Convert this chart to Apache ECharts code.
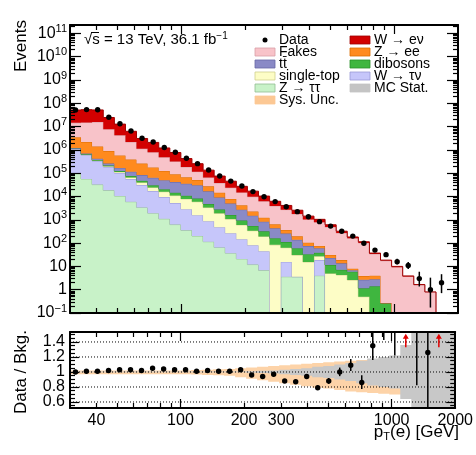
<!DOCTYPE html>
<html>
<head>
<meta charset="utf-8">
<script src="https://cdn.jsdelivr.net/npm/echarts@6.0.0/dist/echarts.min.js"></script>
<style>
html,body{margin:0;padding:0;background:#fff;}
#chart{width:476px;height:455px;}
</style>
</head>
<body>
<div id="chart"></div>
<script>
// ===================== DATA =====================
// bin edges of p_T(e) in GeV
const binEdges = [30,33.8,38.1,43,48.5,54.7,61.6,69.5,78.4,88.4,99.6,112.3,126.7,142.8,161,181.6,204.7,230.8,260.3,293.5,330.9,373.1,420.7,474.4,534.9,603.1,680,766.7,864.5,974.8,1099,1239,1397,1576,1777,2000];

const dataCounts = [5.13e7,5.37e7,5.25e7,2.51e7,1.32e7,6.46e6,3.16e6,2.19e6,1.26e6,7.94e5,4.37e5,2.57e5,1.38e5,7.59e4,4.57e4,2.82e4,1.62e4,9770,6030,3630,2240,1350,832,537,324,200,98,50,32,16,11,3,1,2,0];

// background components (events per bin), stacked bottom -> top
const zTauTau = [1.0e5,56900,32400,18400,10500,5960,3390,1930,1100,624,355,202,115,65,37,21,12,6.8,0,3.6,3.6,0,4,0,0,0,0,0,0,0,0,0,0,0,0];
const wTauNu = [1.0e6,5.5e5,3.02e5,1.66e5,91200,50100,27500,15100,8320,4570,2510,1380,759,417,229,126,69,38,0,12,0,0,14.6,0,0,0,0,0,0,0,0,0,0,0,0];
const singleTop = [20000,17400,15100,13200,11500,10000,8710,7590,6610,5750,5010,4370,2480,1410,804,457,260,148,84,48,27,15.5,8.8,5.0,4.3,2.6,0.5,0,0,0,0,0,0,0,0];
const dibosons = [31600,24900,19600,15400,12100,9550,7520,5920,4660,3660,2880,2290,1410,871,537,331,204,126,78,48,30,18,11,6.5,2.8,3.3,0.65,1.4,0.27,0,0,0,0,0,0];
const ttbar = [63100,57400,52200,47500,43300,39400,35800,32600,29600,27000,24500,22400,11900,6340,3370,1790,955,508,270,144,77,41,22,11.4,6.4,1.0,1.5,1.4,0,0,0,0,0,0,0];
const zee = [2.29e6,1.49e6,9.73e5,6.34e5,4.13e5,2.69e5,1.75e5,1.14e5,74500,48500,31600,20400,10600,5520,2870,1490,776,404,210,109,57,30,15.3,8,5.1,1.1,1.2,1.2,0,0,0,0,0,0,0];
const fakes = [1.094e7,1.276e7,1.428e7,6.87e6,3.66e6,1.79e6,8.62e5,6.17e5,3.57e5,2.31e5,1.18e5,6.54e4,3.74e4,2.31e4,1.595e4,10800,7450,5040,3280,2365,1583,935,718,454,250,152,97,30,17.1,9.3,3.7,1.58,0.8,0,0];
const wenu = [3.69e7,3.81e7,3.62e7,1.68e7,8.55e6,4.1e6,1.97e6,1.30e6,7.28e5,4.5e5,2.39e5,1.39e5,7.05e4,3.75e4,2.15e4,1.23e4,7170,4130,2290,1400,792,396,253,126,55,23,13,3.3,1.2,0.7,0.2,0.08,0,0,0];

// ratio panel
const ratioValues = [1.00,1.01,1.01,1.02,1.03,1.03,1.02,1.05,1.04,1.03,1.03,1.01,1.02,1.01,1.01,1.03,0.96,0.94,0.97,0.88,0.87,0.94,0.79,0.88,1.00,1.09,0.86,1.35,1.73,1.62,2.8,1.8,1.26,null,null];
const sysUp = [0.02,0.02,0.02,0.02,0.02,0.02,0.02,0.02,0.02,0.02,0.02,0.025,0.03,0.035,0.04,0.05,0.06,0.07,0.08,0.09,0.10,0.11,0.12,0.13,0.14,0.15,0.16,0.17,0.18,0.19,0.2,0.2,0.2,0.2,0.2];
const sysDown = [0.03,0.03,0.03,0.03,0.03,0.03,0.03,0.03,0.03,0.03,0.03,0.035,0.04,0.045,0.05,0.07,0.09,0.11,0.13,0.15,0.17,0.19,0.21,0.22,0.24,0.26,0.27,0.28,0.29,0.3,0.3,0.3,0.3,0.3,0.3];
const mcStat = [0.005,0.005,0.005,0.005,0.005,0.005,0.005,0.005,0.005,0.005,0.005,0.005,0.005,0.005,0.005,0.005,0.01,0.015,0.02,0.03,0.04,0.05,0.07,0.08,0.1,0.12,0.15,0.18,0.2,0.22,0.36,1,1,1,1];

// tick labels
const yMainLabels = [0.1,1,10,100,1e3,1e4,1e5,1e6,1e7,1e8,1e9,1e10,1e11];
const xLabels = [40,100,200,300,1000,2000];
const xMajorTicks = [100,1000];
const ratioLabels = [0.6,0.8,1,1.2,1.4];

// ===================== CHART =====================
const FONT = '"Liberation Sans", Arial, Helvetica, sans-serif';
const X_MIN = 30, X_MAX = 2000;
const Y_MIN = 0.1, Y_MAX = 2.29e11;
const R_MIN = 0.52, R_MAX = 1.533;
const nBins = binEdges.length - 1;
const binCenters = binEdges.slice(0, -1).map((e, k) => Math.sqrt(e * binEdges[k + 1]));

// minor tick positions
const yMinorTicks = [];
for (let d = 0.1; d < Y_MAX; d *= 10) for (let m = 2; m <= 9; m++) { const v = +(m * d).toPrecision(3); if (v < Y_MAX) yMinorTicks.push(v); }
const xMinorTicks = [];
[10, 100, 1000].forEach(d => { for (let m = 1; m <= 9; m++) { const v = m * d; if (v > X_MIN && v < X_MAX && v !== 100 && v !== 1000) xMinorTicks.push(v); } });
const rMinorTicks = [];
for (let v = 0.55; v < 1.53; v += 0.05) { const r = Math.round(v * 100) / 100; if (!ratioLabels.some(l => Math.abs(l - r) < 1e-6)) rMinorTicks.push(r); }
// the ratio labels are split over two overlapping axes so that none is auto-hidden
const ratioLabelsA = ratioLabels.filter((v, i) => i % 2 === 0);
const ratioLabelsB = ratioLabels.filter((v, i) => i % 2 === 1);

const layers = [
  { name: 'Z → ττ', vals: zTauTau, fill: '#c8f2c8', line: '#93bd93' },
  { name: 'W → τν', vals: wTauNu, fill: '#c6c6fa', line: '#9a9ad6' },
  { name: 'single-top', vals: singleTop, fill: '#fdfdc6', line: '#cfcf8e' },
  { name: 'dibosons', vals: dibosons, fill: '#3fb63f', line: '#2a8f2a' },
  { name: 'tt\u0304', vals: ttbar, fill: '#8a8ac6', line: '#6868a4' },
  { name: 'Z → ee', vals: zee, fill: '#ff8a1e', line: '#d86c00' },
  { name: 'Fakes', vals: fakes, fill: '#f8c3c9', line: '#d8a0a7' },
  { name: 'W → eν', vals: wenu, fill: '#d20000', line: '#a00000' }
];
let running = new Array(nBins).fill(0);
layers.forEach(L => { L.lo = running.slice(); running = running.map((v, k) => v + L.vals[k]); L.hi = running.slice(); });
const mcTotal = running;

function garwood(n) {
  const lo = n * Math.pow(1 - 1 / (9 * n) - 1 / (3 * Math.sqrt(n)), 3);
  const m = n + 1;
  const hi = m * Math.pow(1 - 1 / (9 * m) + 1 / (3 * Math.sqrt(m)), 3);
  return [lo, hi];
}

function steps(api, arr, floor) {
  const pts = [];
  for (let k = 0; k < nBins; k++) {
    const v = Math.max(arr[k], floor);
    pts.push(api.coord([binEdges[k], v]), api.coord([binEdges[k + 1], v]));
  }
  return pts;
}

const series = [];
// stacked backgrounds
layers.forEach(L => {
  series.push({
    type: 'custom', name: L.name, xAxisIndex: 0, yAxisIndex: 0, clip: true, z: 2,
    data: [[100, 1]],
    renderItem: (params, api) => {
      const up = steps(api, L.hi, Y_MIN);
      const dn = steps(api, L.lo, Y_MIN).reverse();
      return { type: 'group', children: [
        { type: 'polygon', shape: { points: up.concat(dn) }, style: { fill: L.fill } },
        { type: 'polyline', shape: { points: up }, style: { stroke: L.line, lineWidth: 1, fill: 'none' } }
      ] };
    }
  });
});

// data points
const dataItems = [];
for (let k = 0; k < nBins; k++) {
  const n = dataCounts[k];
  if (n > 0) { const g = garwood(n); dataItems.push([binCenters[k], n, g[0], g[1]]); }
}
series.push({
  type: 'custom', name: 'Data', xAxisIndex: 0, yAxisIndex: 0, clip: true, z: 5,
  data: dataItems,
  renderItem: (params, api) => {
    const c = api.coord([api.value(0), api.value(1)]);
    const a = api.coord([api.value(0), Math.max(api.value(2), Y_MIN)]);
    const b = api.coord([api.value(0), api.value(3)]);
    return { type: 'group', children: [
      { type: 'line', shape: { x1: c[0], y1: a[1], x2: c[0], y2: b[1] }, style: { stroke: '#000', lineWidth: 1.5 } },
      { type: 'circle', shape: { cx: c[0], cy: c[1], r: 2.7 }, style: { fill: '#000' } }
    ] };
  }
});

// ratio bands
series.push({
  type: 'custom', name: 'Sys. Unc.', xAxisIndex: 4, yAxisIndex: 4, clip: true, z: 2,
  data: [[100, 1]],
  renderItem: (params, api) => {
    const up = steps(api, sysUp.map(s => 1 + s), -1e9);
    const dn = steps(api, sysDown.map(s => 1 - s), -1e9).reverse();
    return { type: 'polygon', shape: { points: up.concat(dn) }, style: { fill: '#fdd3a8' } };
  }
});
series.push({
  type: 'custom', name: 'MC Stat.', xAxisIndex: 4, yAxisIndex: 4, clip: true, z: 3,
  data: [[100, 1]],
  renderItem: (params, api) => {
    const up = steps(api, mcStat.map(s => 1 + s), -1e9);
    const dn = steps(api, mcStat.map(s => 1 - s), -1e9).reverse();
    return { type: 'polygon', shape: { points: up.concat(dn) }, style: { fill: '#c8c8c8' } };
  }
});
// ratio dotted reference lines
series.push({
  type: 'custom', name: 'grid', xAxisIndex: 4, yAxisIndex: 4, clip: true, z: 4,
  data: ratioLabels.map(v => [X_MIN, v]),
  renderItem: (params, api) => {
    const a = api.coord([X_MIN, api.value(1)]);
    const b = api.coord([X_MAX, api.value(1)]);
    return { type: 'line', shape: { x1: a[0], y1: a[1], x2: b[0], y2: b[1] }, style: { stroke: '#000', lineWidth: 1, lineDash: [1, 2] } };
  }
});
// ratio points and arrows
const ratioItems = [], arrowItems = [];
for (let k = 0; k < nBins; k++) {
  const n = dataCounts[k];
  if (!(n > 0)) continue;
  if (!(mcTotal[k] > 0)) { arrowItems.push([binCenters[k], 1.42]); continue; }
  const r = ratioValues[k];
  if (r == null) continue;
  const g = garwood(n);
  const rlo = r * g[0] / n, rhi = r * g[1] / n;
  if (rlo > R_MAX) { arrowItems.push([binCenters[k], 1.42]); continue; }
  ratioItems.push([binCenters[k], r, rlo, rhi]);
}
series.push({
  type: 'custom', name: 'ratio', xAxisIndex: 4, yAxisIndex: 4, clip: true, z: 6,
  data: ratioItems,
  renderItem: (params, api) => {
    const c = api.coord([api.value(0), api.value(1)]);
    const a = api.coord([api.value(0), api.value(2)]);
    const b = api.coord([api.value(0), api.value(3)]);
    return { type: 'group', children: [
      { type: 'line', shape: { x1: c[0], y1: a[1], x2: c[0], y2: b[1] }, style: { stroke: '#000', lineWidth: 1.5 } },
      { type: 'circle', shape: { cx: c[0], cy: c[1], r: 2.7 }, style: { fill: '#000' } }
    ] };
  }
});
series.push({
  type: 'custom', name: 'arrows', xAxisIndex: 4, yAxisIndex: 4, clip: true, z: 6,
  data: arrowItems,
  renderItem: (params, api) => {
    const base = api.coord([api.value(0), 1.33]);
    const tip = api.coord([api.value(0), 1.51]);
    return { type: 'group', children: [
      { type: 'line', shape: { x1: base[0], y1: base[1], x2: tip[0], y2: tip[1] + 3 }, style: { stroke: '#e00000', lineWidth: 1.5 } },
      { type: 'polygon', shape: { points: [[tip[0], tip[1]], [tip[0] - 3, tip[1] + 5], [tip[0] + 3, tip[1] + 5]] }, style: { fill: '#e00000' } }
    ] };
  }
});

// ---------- axes ----------
function xAx(gridIndex, position, ticks, len, showLine, labels) {
  return {
    type: 'log', logBase: 10, gridIndex, position, min: X_MIN, max: X_MAX, z: 10,
    axisLine: { show: showLine, onZero: false, lineStyle: { color: '#000', width: 2 } },
    axisTick: { show: true, inside: true, length: len, customValues: ticks, lineStyle: { color: '#000', width: 1.2 } },
    axisLabel: labels ? { show: true, customValues: labels, fontSize: 16, fontFamily: FONT, color: '#000', margin: 5, interval: 0,
      showMinLabel: true, showMaxLabel: true, hideOverlap: false, formatter: v => String(Math.round(v)) } : { show: false },
    splitLine: { show: false }
  };
}
function yAx(gridIndex, position, type, min, max, ticks, len, showLine, labelOpt) {
  return {
    type, gridIndex, position, min, max, z: 10, logBase: 10,
    axisLine: { show: showLine, onZero: false, lineStyle: { color: '#000', width: 2 } },
    axisTick: { show: true, inside: true, length: len, customValues: ticks, lineStyle: { color: '#000', width: 1.2 } },
    axisLabel: labelOpt || { show: false },
    splitLine: { show: false }
  };
}
const supLabel = {
  show: true, customValues: yMainLabels, margin: 3, color: '#000', showMinLabel: true, showMaxLabel: true, hideOverlap: false, interval: 0,
  formatter: v => {
    const e = Math.round(Math.log10(v));
    if (e === 0) return '{b|1}';
    if (e === 1) return '{b|10}';
    return '{b|10}{s|' + (e < 0 ? '\u2212' + (-e) : e) + '}';
  },
  rich: {
    b: { fontSize: 16, fontFamily: FONT, color: '#000', lineHeight: 20 },
    s: { fontSize: 11, fontFamily: FONT, color: '#000', lineHeight: 11, verticalAlign: 'top' }
  }
};
function ratioLabel(vals) {
  return {
    show: true, customValues: vals, margin: 5, color: '#000', fontSize: 16, fontFamily: FONT, interval: 0,
    showMinLabel: true, showMaxLabel: true, hideOverlap: false,
    formatter: v => String(+v.toFixed(1))
  };
}

const xAxes = [
  xAx(0, 'bottom', xMajorTicks, 9, true),
  xAx(0, 'bottom', xMinorTicks, 5, false),
  xAx(0, 'top', xMajorTicks, 9, true),
  xAx(0, 'top', xMinorTicks, 5, false),
  xAx(1, 'bottom', xMajorTicks, 9, true, xLabels),
  xAx(1, 'bottom', xMinorTicks, 5, false),
  xAx(1, 'top', xMajorTicks, 9, true),
  xAx(1, 'top', xMinorTicks, 5, false)
];
const yAxes = [
  yAx(0, 'left', 'log', Y_MIN, Y_MAX, yMainLabels, 11, true, supLabel),
  yAx(0, 'left', 'log', Y_MIN, Y_MAX, yMinorTicks, 5, false),
  yAx(0, 'right', 'log', Y_MIN, Y_MAX, yMainLabels, 11, true),
  yAx(0, 'right', 'log', Y_MIN, Y_MAX, yMinorTicks, 5, false),
  yAx(1, 'left', 'value', R_MIN, R_MAX, ratioLabels, 9, true, ratioLabel(ratioLabelsA)),
  yAx(1, 'left', 'value', R_MIN, R_MAX, rMinorTicks, 5, false, ratioLabel(ratioLabelsB)),
  yAx(1, 'right', 'value', R_MIN, R_MAX, ratioLabels, 9, true),
  yAx(1, 'right', 'value', R_MIN, R_MAX, rMinorTicks, 5, false)
];

// ---------- texts & legend ----------
const graphics = [];
graphics.push({ type: 'text', x: 21, y: 20, rotation: Math.PI / 2, z: 20,
  style: { text: 'Events', font: '17px ' + FONT, fill: '#000', align: 'right', verticalAlign: 'middle' } });
graphics.push({ type: 'text', x: 21, y: 372, rotation: Math.PI / 2, z: 20,
  style: { text: 'Data / Bkg.', font: '17px ' + FONT, fill: '#000', align: 'center', verticalAlign: 'middle' } });
graphics.push({ type: 'text', x: 459, y: 432, z: 20,
  style: { text: '{a|p}{b|T}{a|(e) [GeV]}', align: 'right', verticalAlign: 'middle',
    rich: { a: { fontSize: 17, fontFamily: FONT, fill: '#000', lineHeight: 20 },
            b: { fontSize: 11, fontFamily: FONT, fill: '#000', lineHeight: 11, verticalAlign: 'bottom' } } } });
graphics.push({ type: 'text', x: 84, y: 40, z: 20,
  style: { text: '{a|\u221As = 13 TeV, 36.1 fb}{s|\u22121}', align: 'left', verticalAlign: 'middle',
    rich: { a: { fontSize: 15, fontFamily: FONT, fill: '#000', lineHeight: 18 },
            s: { fontSize: 10, fontFamily: FONT, fill: '#000', lineHeight: 10, verticalAlign: 'top' } } } });
// overline of the square root
graphics.push({ type: 'line', z: 20, shape: { x1: 91, y1: 32.5, x2: 99, y2: 32.5 }, style: { stroke: '#000', lineWidth: 1 } });

const legendLeft = [
  { label: 'Data', dot: true },
  { label: 'Fakes', layer: 6 },
  { label: 'tt\u0304', layer: 4 },
  { label: 'single-top', layer: 2 },
  { label: 'Z \u2192 \u03c4\u03c4', layer: 0 },
  { label: 'Sys. Unc.', fill: '#fcc894', line: '#fcc894' }
];
const legendRight = [
  { label: 'W \u2192 e\u03bd', layer: 7 },
  { label: 'Z \u2192 ee', layer: 5 },
  { label: 'dibosons', layer: 3 },
  { label: 'W \u2192 \u03c4\u03bd', layer: 1 },
  { label: 'MC Stat.', fill: '#c4c4c4', line: '#c4c4c4' }
];
function addLegend(items, bx, tx) {
  items.forEach((it, i) => {
    const cy = 40 + 12 * i;
    if (it.dot) {
      graphics.push({ type: 'circle', z: 20, shape: { cx: bx + 10, cy: cy, r: 2.5 }, style: { fill: '#000' } });
    } else {
      const fill = it.layer != null ? layers[it.layer].fill : it.fill;
      const line = it.layer != null ? layers[it.layer].line : it.line;
      graphics.push({ type: 'rect', z: 20, shape: { x: bx, y: cy - 4, width: 20, height: 8 }, style: { fill, stroke: line, lineWidth: 0.8 } });
    }
    graphics.push({ type: 'text', z: 20, x: tx, y: cy, style: { text: it.label, font: '14px ' + FONT, fill: '#000', align: 'left', verticalAlign: 'middle' } });
  });
}
addLegend(legendLeft, 255, 279);
addLegend(legendRight, 350, 374);

const chart = echarts.init(document.getElementById('chart'), null, { renderer: 'canvas', width: 476, height: 455 });
chart.setOption({
  animation: false,
  backgroundColor: '#fff',
  grid: [
    { left: 70, top: 25, width: 388, height: 288, containLabel: false },
    { left: 70, top: 332, width: 388, height: 76, containLabel: false }
  ],
  xAxis: xAxes,
  yAxis: yAxes,
  series,
  graphic: graphics
});
</script>
</body>
</html>
